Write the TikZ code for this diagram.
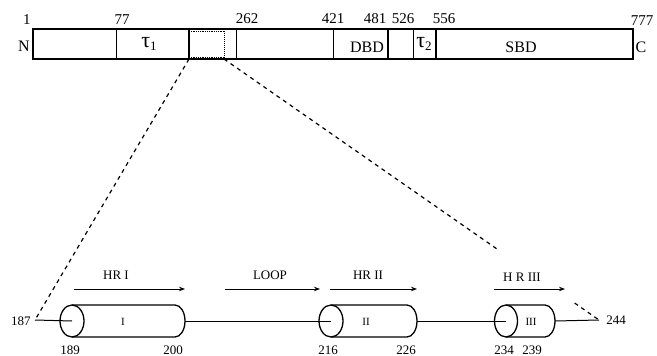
\documentclass[tikz,border=0pt]{standalone}
\usepackage{fontspec}
\setmainfont{Liberation Serif}
\usetikzlibrary{arrows.meta,calc}
\begin{document}
\begin{tikzpicture}[x=1pt,y=-1pt,>={Stealth[length=6pt,width=4.5pt]},
	zahl/.style={font=\fontsize{15}{18}\selectfont},
	klein/.style={font=\fontsize{13}{15}\selectfont},
	domaene/.style={font=\fontsize{16}{19}\selectfont},
	helix/.style={font=\fontsize{11}{13}\selectfont},
	zyl/.style={line width=1.3pt},
	strich/.style={dash pattern=on 4pt off 4pt, line width=1.2pt}]
	\useasboundingbox (0,0) rectangle (657,356);
	% Balken oben
	\draw [line width=1.5pt] (33,29) rectangle (633,59);
	\draw [line width=0.9pt] (116,29) -- (116,59);
	\draw [line width=1.5pt] (189,29) -- (189,59);
	\draw [densely dotted, line width=1pt] (224,29) -- (224,59);
	\draw [densely dotted, line width=0.8pt] (189,31) -- (224,31);
	\draw [densely dotted, line width=0.8pt] (189,57) -- (224,57);
	\draw [line width=0.9pt] (236,29) -- (236,59);
	\draw [line width=0.9pt] (333,29) -- (333,59);
	\draw [line width=1.3pt] (388,29) -- (388,59);
	\draw [line width=0.9pt] (413,29) -- (413,59);
	\draw [line width=1.3pt] (436,29) -- (436,59);
	% Zahlen oben
	\node [zahl] (p1) at (27,20) {1};
	\node [zahl] (p77) at (122,20) {77};
	\node [zahl] (p262) at (247,19) {262};
	\node [zahl] (p421) at (333,19) {421};
	\node [zahl] (p481) at (375,19) {481};
	\node [zahl] (p526) at (403,19) {526};
	\node [zahl] (p556) at (444,19) {556};
	\node [zahl] (p777) at (642,21) {777};
	% Domaenen
	\node [domaene] (nterm) at (24,46) {N};
	\node [domaene] (cterm) at (641,47) {C};
	\node [font=\fontsize{22}{24}\selectfont] (tau1) at (149,44) {τ\raisebox{-0.35ex}{\fontsize{13}{15}\selectfont 1}};
	\node [domaene] (dbd) at (367,47) {DBD};
	\node [font=\fontsize{22}{24}\selectfont] (tau2) at (424,44) {τ\raisebox{-0.35ex}{\fontsize{13}{15}\selectfont 2}};
	\node [domaene] (sbd) at (521,47) {SBD};
	% Zoom
	\coordinate (zl) at (189,59);
	\coordinate (zr) at (224,59);
	\coordinate (al) at (35,320);
	\coordinate (ar) at (599,320);
	\coordinate (lueckea) at ($(zr)!0.732!(ar)$);
	\coordinate (lueckeb) at ($(zr)!0.935!(ar)$);
	\draw [strich] (zl) -- (al);
	\draw [strich] (zr) -- (lueckea);
	\draw [strich] (lueckeb) -- (ar);
	% Zylinder
	\coordinate (z1) at (72,321);
	\coordinate (e1) at (185,321);
	\coordinate (z2) at (331,321);
	\coordinate (e2) at (417,321);
	\coordinate (z3) at (506,321);
	\coordinate (e3) at (555,321);
	\draw [zyl] (z1) ellipse [x radius=12, y radius=16];
	\draw [zyl] (72,305) -- (175,305) arc [start angle=-90, end angle=90, x radius=10, y radius=16] -- (72,337);
	\draw [zyl] (z2) ellipse [x radius=12, y radius=16];
	\draw [zyl] (331,305) -- (407,305) arc [start angle=-90, end angle=90, x radius=10, y radius=16] -- (331,337);
	\draw [zyl] (z3) ellipse [x radius=11.5, y radius=16];
	\draw [zyl] (506,305) -- (545,305) arc [start angle=-90, end angle=90, x radius=10, y radius=16] -- (506,337);
	\node [helix] (h1) at (123,322) {I};
	\node [helix] (h2) at (366,322) {II};
	\node [helix] (h3) at (531,322) {III};
	% Achse
	\draw [line width=1pt] (al) -- (z1);
	\draw [line width=1pt] (e1) -- (z2);
	\draw [line width=1pt] (e2) -- (z3);
	\draw [line width=1pt] (e3) -- (ar);
	% Zahlen unten
	\node [klein] (q187) at (21,321) {187};
	\node [klein] (q244) at (616,320) {244};
	\node [klein] (q189) at (70,350) {189};
	\node [klein] (q200) at (173,350) {200};
	\node [klein] (q216) at (328,350) {216};
	\node [klein] (q226) at (406,350) {226};
	\node [klein] (q234) at (504,350) {234};
	\node [klein] (q239) at (532,350) {239};
	% Pfeile
	\node [klein] (hr1) at (116,275) {HR I};
	\node [klein] (loop) at (270,275) {LOOP};
	\node [klein] (hr2) at (368,275) {HR II};
	\node [klein] (hr3) at (522,277) {H R III};
	\draw [->, line width=1pt] (74,289) -- (185,289);
	\draw [->, line width=1pt] (225,289) -- (320,289);
	\draw [->, line width=1pt] (330,289) -- (417,289);
	\draw [->, line width=1pt] (494,289) -- (565,289);
\end{tikzpicture}
\end{document}
